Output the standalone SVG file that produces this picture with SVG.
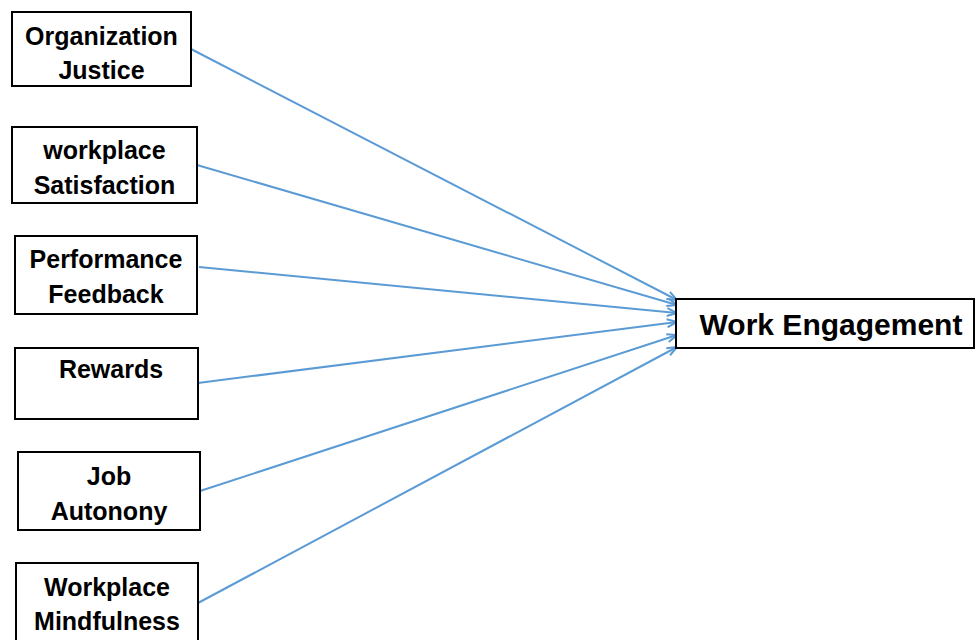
<svg xmlns="http://www.w3.org/2000/svg" width="975" height="640" viewBox="0 0 975 640">
<style>
.box{fill:#fff;stroke:#000;stroke-width:2}
.t{font-family:"Liberation Sans",Arial,sans-serif;font-weight:bold;font-size:25px;fill:#000;text-anchor:middle}
.big{font-size:30px}
.c{stroke:#5B9BD5;stroke-width:2;fill:none;marker-end:url(#ah)}
</style>
<defs>
<marker id="ah" viewBox="0 0 12 10" refX="11" refY="5" markerWidth="12" markerHeight="10" markerUnits="userSpaceOnUse" orient="auto">
<path d="M1,1 L11,5 L1,9" fill="none" stroke="#5B9BD5" stroke-width="2"/>
</marker>
</defs>
<rect width="975" height="640" fill="#fff"/>
<g id="connectors">
<line class="c" x1="191" y1="49" x2="677" y2="300"/>
<line class="c" x1="197" y1="165" x2="677" y2="305"/>
<line class="c" x1="199" y1="267" x2="677" y2="313"/>
<line class="c" x1="198" y1="383" x2="677" y2="322"/>
<line class="c" x1="200" y1="491" x2="677" y2="335"/>
<line class="c" x1="198" y1="603" x2="677" y2="347"/>
</g>
<g id="n1"><rect class="box" x="12" y="12" width="179" height="74"/><text class="t" x="101.5" y="45">Organization</text><text class="t" x="101.5" y="79">Justice</text></g>
<g id="n2"><rect class="box" x="12" y="127" width="185" height="76"/><text class="t" x="104.5" y="159">workplace</text><text class="t" x="104.5" y="194">Satisfaction</text></g>
<g id="n3"><rect class="box" x="15" y="236" width="182" height="78"/><text class="t" x="106" y="268">Performance</text><text class="t" x="106" y="303">Feedback</text></g>
<g id="n4"><rect class="box" x="15" y="348" width="183" height="71"/><text class="t" x="111" y="378">Rewards</text></g>
<g id="n5"><rect class="box" x="18" y="452" width="182" height="78"/><text class="t" x="109" y="485">Job</text><text class="t" x="109" y="520">Autonony</text></g>
<g id="n6"><rect class="box" x="16" y="563" width="182" height="90"/><text class="t" x="107" y="596">Workplace</text><text class="t" x="107" y="630">Mindfulness</text></g>
<g id="n7"><rect class="box" x="676" y="299" width="298" height="49"/><text class="t big" x="831" y="335">Work Engagement</text></g>
</svg>
